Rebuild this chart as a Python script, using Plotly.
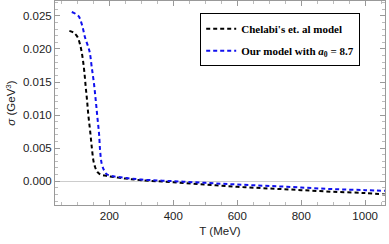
import plotly.graph_objects as go

# Chelabi's et. al model
T_chelabi = [75, 87.5, 100, 110.6, 116.9, 121.9, 126.2, 130.3, 134.4, 139.7, 145, 150, 155.3, 162.5, 171, 192, 250, 300, 400, 500, 600, 700, 800, 900, 1000, 1062]
s_chelabi = [0.02274, 0.02249, 0.02184, 0.02023, 0.01848, 0.01646, 0.0142, 0.0122, 0.00994, 0.00768, 0.00517, 0.00316, 0.00215, 0.0014, 0.00105, 0.0008, 0.0004, 0.00015, -0.00015, -0.0005, -0.00085, -0.0011, -0.00135, -0.0016, -0.0018, -0.002]

# Our model with a0 = 8.7
T_ours = [82.5, 103, 113.8, 124, 137.5, 145, 152, 157.5, 162.5, 167.8, 171, 176, 183.4, 192, 212.5, 250, 300, 400, 500, 600, 700, 800, 900, 1000, 1062]
s_ours = [0.0256, 0.025, 0.02375, 0.02173, 0.01973, 0.01721, 0.01471, 0.0122, 0.00968, 0.00718, 0.00467, 0.00266, 0.00166, 0.00105, 0.00075, 0.0005, 0.00025, 0.0, -0.00025, -0.0005, -0.00072, -0.00095, -0.0012, -0.00135, -0.00146]

fig = go.Figure()
fig.add_trace(go.Scatter(x=T_chelabi, y=s_chelabi, mode="lines", name="<b>Chelabi's et. al model</b>",
                         legendgroup="a",
                         line=dict(color="black", width=2, dash="4px,3px", shape="spline")))
fig.add_trace(go.Scatter(x=T_ours, y=s_ours, mode="lines", name="<b>Our model with <i>a</i><sub>0</sub> = 8.7</b>",
                         legendgroup="b",
                         line=dict(color="#1010ee", width=2, dash="4px,3px", shape="spline")))

axis_common = dict(showline=True, linecolor="#999999", linewidth=1, mirror="ticks",
                   ticks="inside", tickcolor="#999999", ticklen=5,
                   tickfont=dict(family="Liberation Sans", size=11.5, color="#222222"),
                   showgrid=False)

fig.update_layout(
    width=389, height=244,
    margin=dict(l=55, r=4, t=1, b=39),
    plot_bgcolor="white", paper_bgcolor="white",
    showlegend=True,
    legend=dict(x=0.44, y=0.94, xanchor="left", yanchor="top",
                bordercolor="black", borderwidth=1, bgcolor="white",
                font=dict(family="Liberation Serif", size=11, color="black"),
                traceorder="grouped", tracegroupgap=3, itemwidth=30),
    xaxis=dict(range=[30, 1062], tickvals=[200, 400, 600, 800, 1000],
               title=dict(text="T (MeV)", font=dict(family="Liberation Sans", size=11.5, color="#222222"), standoff=6),
               minor=dict(dtick=50, tick0=0, ticks="inside", ticklen=3, tickcolor="#bbbbbb"),
               zeroline=False, **axis_common),
    yaxis=dict(range=[-0.0036, 0.02726], tickvals=[0, 0.005, 0.01, 0.015, 0.02, 0.025],
               ticktext=["0.000", "0.005", "0.010", "0.015", "0.020", "0.025"],
               title=dict(text="<i>σ</i> (GeV<sup>3</sup>)", font=dict(family="Liberation Sans", size=11.5, color="#222222"), standoff=4),
               minor=dict(dtick=0.001, tick0=0, ticks="inside", ticklen=3, tickcolor="#bbbbbb"),
               zeroline=True, zerolinecolor="#cccccc", zerolinewidth=1, **axis_common),
)

fig.write_html("out.html", config={"displayModeBar": False},
               post_script="document.body.style.margin='0';")
